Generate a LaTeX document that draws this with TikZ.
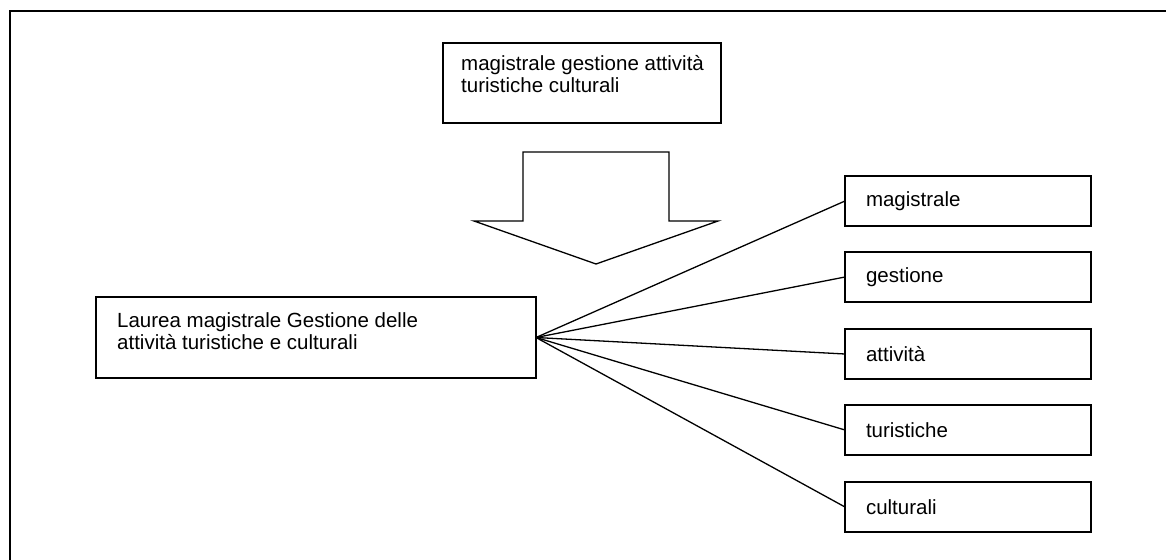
\documentclass[tikz,border=0pt]{standalone}
\usepackage{fontspec}
\setmainfont{Liberation Sans}
\begin{document}
\begin{tikzpicture}[x=1pt,y=-1pt,
  every node/.style={font=\fontsize{20.5}{22}\selectfont},
  frame/.style={draw, line width=1.3pt, anchor=north west, inner sep=0pt, outer sep=0pt},
  label/.style={anchor=north west, align=left, inner sep=0pt},
  word/.style={frame, minimum width=244pt, minimum height=50pt, text width=204pt,
    align=left, inner xsep=21pt},
  fan/.style={line width=1.3pt},
  frameline/.style={line width=2pt}]
\useasboundingbox (0,0) rectangle (1166,559);
% page frame (only the top and left edges fall inside the view)
\coordinate (fTL) at (10,11);
\coordinate (fTR) at (1170,11);
\coordinate (fBL) at (10,563);
\draw[frameline] (fBL) -- (fTL) -- (fTR);
% query box
\node[frame, minimum width=278pt, minimum height=80pt] (query) at (443,43) {};
\node[label] (querytext) at ([xshift=18pt, yshift=-12pt]query.north west)
  {magistrale gestione attività\\turistiche culturali};
% block arrow
\draw[line width=1.3pt, line join=miter]
  (523,152) -- (669,152) -- (669,221) -- (718,221) -- (596,264)
  -- (474,221) -- (523,221) -- cycle;
% full title
\node[frame, minimum width=440pt, minimum height=81pt] (title) at (96,297) {};
\node[label] (titletext) at ([xshift=21pt, yshift=-15pt]title.north west)
  {Laurea magistrale Gestione delle\\attività turistiche e culturali};
% single words
\node[word] (w1) at (845,176) {magistrale};
\node[word] (w2) at (845,252) {gestione};
\node[word] (w3) at (845,329) {attività};
\node[word] (w4) at (845,405) {turistiche};
\node[word] (w5) at (845,482) {culturali};
% fan of connectors
\foreach \w in {w1,w2,w3,w4,w5}
  \draw[fan] (title.east) -- (\w.west);
\end{tikzpicture}
\end{document}
